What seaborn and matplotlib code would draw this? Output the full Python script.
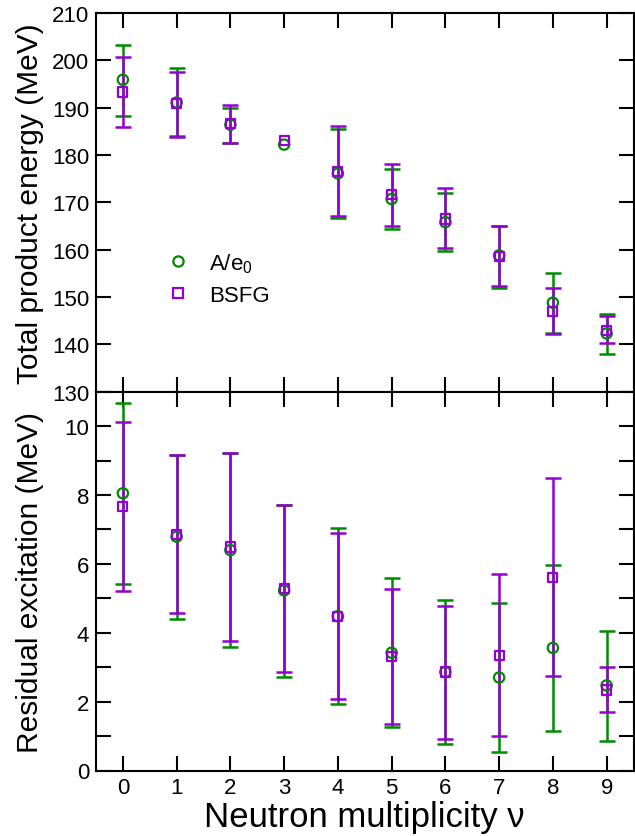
import numpy as np
import pandas as pd
import matplotlib
matplotlib.use("Agg")
import matplotlib.pyplot as plt
from matplotlib.ticker import MultipleLocator
from matplotlib.lines import Line2D
import seaborn as sns

# ---------------- data ----------------
nu = [0, 1, 2, 3, 4, 5, 6, 7, 8, 9]

# Total product energy (MeV)
tke_ae0 = [195.9, 191.1, 186.4, 182.2, 176.1, 170.7, 165.8, 158.8, 148.8, 142.3]
tke_ae0_hi = [203.2, 198.3, 190.0, np.nan, 185.4, 177.1, 171.9, 165.1, 155.1, 146.5]
tke_ae0_lo = [188.3, 184.0, 182.6, np.nan, 166.7, 164.4, 159.7, 152.0, 142.3, 137.9]

tke_bsfg = [193.3, 190.9, 186.6, 183.0, 176.6, 171.7, 166.5, 158.6, 147.0, 143.0]
tke_bsfg_hi = [200.8, 197.6, 190.6, np.nan, 186.1, 178.1, 173.1, 165.0, 151.9, 146.0]
tke_bsfg_lo = [185.9, 183.7, 182.6, np.nan, 167.1, 165.1, 160.3, 152.3, 142.1, 140.2]

# Residual excitation (MeV)
res_ae0 = [8.05, 6.79, 6.40, 5.23, 4.48, 3.42, 2.86, 2.70, 3.56, 2.47]
res_ae0_hi = [10.68, 9.16, 9.23, 7.71, 7.03, 5.58, 4.95, 4.86, 5.96, 4.06]
res_ae0_lo = [5.41, 4.40, 3.59, 2.72, 1.94, 1.26, 0.76, 0.54, 1.15, 0.87]

res_bsfg = [7.66, 6.86, 6.49, 5.28, 4.48, 3.31, 2.86, 3.34, 5.60, 2.34]
res_bsfg_hi = [10.12, 9.16, 9.23, 7.71, 6.91, 5.28, 4.78, 5.70, 8.48, 3.00]
res_bsfg_lo = [5.20, 4.58, 3.75, 2.86, 2.07, 1.36, 0.92, 0.99, 2.74, 1.70]

labels = ["A/e$_{0}$", "BSFG"]
GREEN = "#008b00"
VIOLET = "#9400d3"
MARKERS = ["o", "s"]

# ---------------- style ----------------
sns.set_theme(style="ticks")
plt.rcParams["font.family"] = ["Liberation Sans", "DejaVu Sans"]
plt.rcParams["mathtext.fontset"] = "custom"
plt.rcParams["mathtext.rm"] = "Liberation Sans"
plt.rcParams["mathtext.it"] = "Liberation Sans:italic"
for k in ["text.color", "axes.labelcolor", "xtick.color", "ytick.color", "axes.edgecolor"]:
    plt.rcParams[k] = "black"
plt.rcParams["axes.linewidth"] = 1.5

fig = plt.figure(figsize=(6.35, 8.37), dpi=100)
L, R = 96 / 635, 633.5 / 635
y_top, y_mid, y_bot = 1 - 14 / 837, 1 - 392.7 / 837, 1 - 771.5 / 837
ax1 = fig.add_axes([L, y_mid, R - L, y_top - y_mid])
ax2 = fig.add_axes([L, y_bot, R - L, y_mid - y_bot])


def draw(ax, y1, hi1, lo1, y2, hi2, lo2):
    df = pd.DataFrame({
        "nu": nu * 2,
        "val": list(y1) + list(y2),
        "hi": list(hi1) + list(hi2),
        "lo": list(lo1) + list(lo2),
        "model": [labels[0]] * len(nu) + [labels[1]] * len(nu),
    })
    for lab, col in zip(labels, [GREEN, VIOLET]):
        d = df[(df.model == lab) & df.hi.notna()]
        ax.errorbar(d.nu, d.val, yerr=[d.val - d.lo, d.hi - d.val], fmt="none",
                    ecolor=col, elinewidth=1.8, capsize=5.8, capthick=1.8, zorder=2)
    for lab, col, mk, sz in zip(labels, [GREEN, VIOLET], MARKERS, [55, 44]):
        d = df[df.model == lab]
        sns.scatterplot(data=d, x="nu", y="val", marker=mk, s=sz,
                        facecolors="none", edgecolors=col, color=col,
                        linewidth=1.6, ax=ax, legend=False, zorder=3)


draw(ax1, tke_ae0, tke_ae0_hi, tke_ae0_lo, tke_bsfg, tke_bsfg_hi, tke_bsfg_lo)
draw(ax2, res_ae0, res_ae0_hi, res_ae0_lo, res_bsfg, res_bsfg_hi, res_bsfg_lo)

# ensure hollow markers
for ax, in [(ax1,), (ax2,)]:
    cols = [GREEN, VIOLET]
    pcs = [c for c in ax.collections if isinstance(c, matplotlib.collections.PathCollection)]
    for coll, col in zip(pcs, cols):
        coll.set_facecolors("none")
        coll.set_edgecolors(col)

for ax in (ax1, ax2):
    ax.set_xlim(-0.5, 9.5)
    ax.xaxis.set_major_locator(MultipleLocator(1))
    ax.tick_params(axis="both", which="both", direction="in", length=10.8, width=1.5,
                   top=True, right=True, labelsize=16, pad=5, color="black", labelcolor="black")
    for s in ax.spines.values():
        s.set_linewidth(1.5)
        s.set_color("black")
    ax.set_ylabel("")
    ax.set_xlabel("")

ax1.set_ylim(130, 210)
ax1.yaxis.set_major_locator(MultipleLocator(10))
ax1.tick_params(axis="x", labelbottom=False)
ax1.set_ylabel("Total product energy (MeV)", fontsize=21.5)
ax1.yaxis.set_label_coords(-0.097, 0.5)

ax2.set_ylim(0, 11)
ax2.yaxis.set_major_locator(MultipleLocator(2))
ax2.yaxis.set_minor_locator(MultipleLocator(1))
ax2.set_ylabel("Residual excitation (MeV)", fontsize=21.5)
ax2.yaxis.set_label_coords(-0.097, 0.5)
ax2.set_xlabel("Neutron multiplicity ν", fontsize=25, labelpad=1)

# legend
handles = [Line2D([], [], linestyle="none", marker=m, markersize=ms, markerfacecolor="none",
                  markeredgecolor=c, markeredgewidth=1.6)
           for m, c, ms in zip(MARKERS, [GREEN, VIOLET], [7.4, 6.6])]
leg = ax1.legend(handles, labels, loc="upper left",
                 bbox_to_anchor=(0.115, 0.395), frameon=False, fontsize=16,
                 handlelength=1.0, handletextpad=0.9, labelspacing=0.45, borderaxespad=0,
                 labelcolor="black")

fig.savefig("out.png", dpi=100)
